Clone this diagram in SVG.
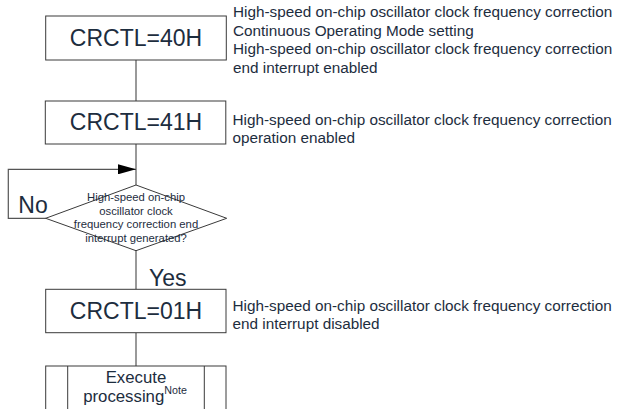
<svg xmlns="http://www.w3.org/2000/svg" width="617" height="409" viewBox="0 0 617 409">
<style>
.box{fill:#fff;stroke:#3a3a3a;stroke-width:1}
.ln{fill:none;stroke:#555;stroke-width:1.2}
.big{font-family:"Liberation Sans",Arial,sans-serif;font-size:23px;fill:#1d2d3e}
.desc{font-family:"Liberation Sans",Arial,sans-serif;font-size:15.3px;fill:#1d2d3e}
.dia{font-family:"Liberation Sans",Arial,sans-serif;font-size:11.3px;fill:#1d2d3e}
.mid{font-family:"Liberation Sans",Arial,sans-serif;font-size:16.8px;fill:#1d2d3e}
</style>
<defs>
<marker id="ah" markerWidth="18" markerHeight="10" refX="18" refY="5" orient="auto" markerUnits="userSpaceOnUse">
<path d="M0,0 L18,5 L0,10 Z" fill="#000"/>
</marker>
</defs>
<g id="connectors">
<line class="ln" x1="136" y1="60" x2="136" y2="101"/>
<line class="ln" x1="136" y1="144" x2="136" y2="185"/>
<path class="ln" d="M46,218.3 H8.3 V169.3 H136" marker-end="url(#ah)"/>
<line class="ln" x1="136" y1="250.7" x2="136" y2="289.3"/>
<line class="ln" x1="136" y1="332.7" x2="136" y2="366"/>
</g>
<g id="n1">
<rect class="box" x="45.7" y="16" width="180.6" height="44"/>
<text class="big" x="136" y="45.7" text-anchor="middle">CRCTL=40H</text>
<text class="desc" x="233" y="17.3">High-speed on-chip oscillator clock frequency correction</text>
<text class="desc" x="233" y="35.8">Continuous Operating Mode setting</text>
<text class="desc" x="233" y="54.3">High-speed on-chip oscillator clock frequency correction</text>
<text class="desc" x="233" y="72.6">end interrupt enabled</text>
</g>
<g id="n2">
<rect class="box" x="45.3" y="101" width="180.5" height="43"/>
<text class="big" x="136" y="130" text-anchor="middle">CRCTL=41H</text>
<text class="desc" x="232.5" y="124.6">High-speed on-chip oscillator clock frequency correction</text>
<text class="desc" x="232.5" y="143.2">operation enabled</text>
</g>
<g id="n3">
<polygon class="box" points="136,185 226.7,218.3 136,250.7 45.7,218.3"/>
<text class="dia" x="136" y="201" text-anchor="middle">High-speed on-chip</text>
<text class="dia" x="136" y="215" text-anchor="middle">oscillator clock</text>
<text class="dia" x="136" y="228.4" text-anchor="middle">frequency correction end</text>
<text class="dia" x="136" y="241.8" text-anchor="middle">interrupt generated?</text>
<text class="big" x="18.3" y="213.3">No</text>
<text class="big" x="149" y="286">Yes</text>
</g>
<g id="n4">
<rect class="box" x="45.7" y="289.3" width="180.3" height="43.4"/>
<text class="big" x="136" y="319.3" text-anchor="middle">CRCTL=01H</text>
<text class="desc" x="232.5" y="310.7">High-speed on-chip oscillator clock frequency correction</text>
<text class="desc" x="232.5" y="329">end interrupt disabled</text>
</g>
<g id="n5">
<rect class="box" x="45.7" y="366" width="180.3" height="60"/>
<line class="box" x1="67.7" y1="366" x2="67.7" y2="409"/>
<line class="box" x1="204.3" y1="366" x2="204.3" y2="409"/>
<text class="mid" x="136" y="383.3" text-anchor="middle">Execute</text>
<text class="mid" x="135" y="401.7" text-anchor="middle">processing<tspan font-size="10.7px" dy="-7.5">Note</tspan></text>
</g>
</svg>
